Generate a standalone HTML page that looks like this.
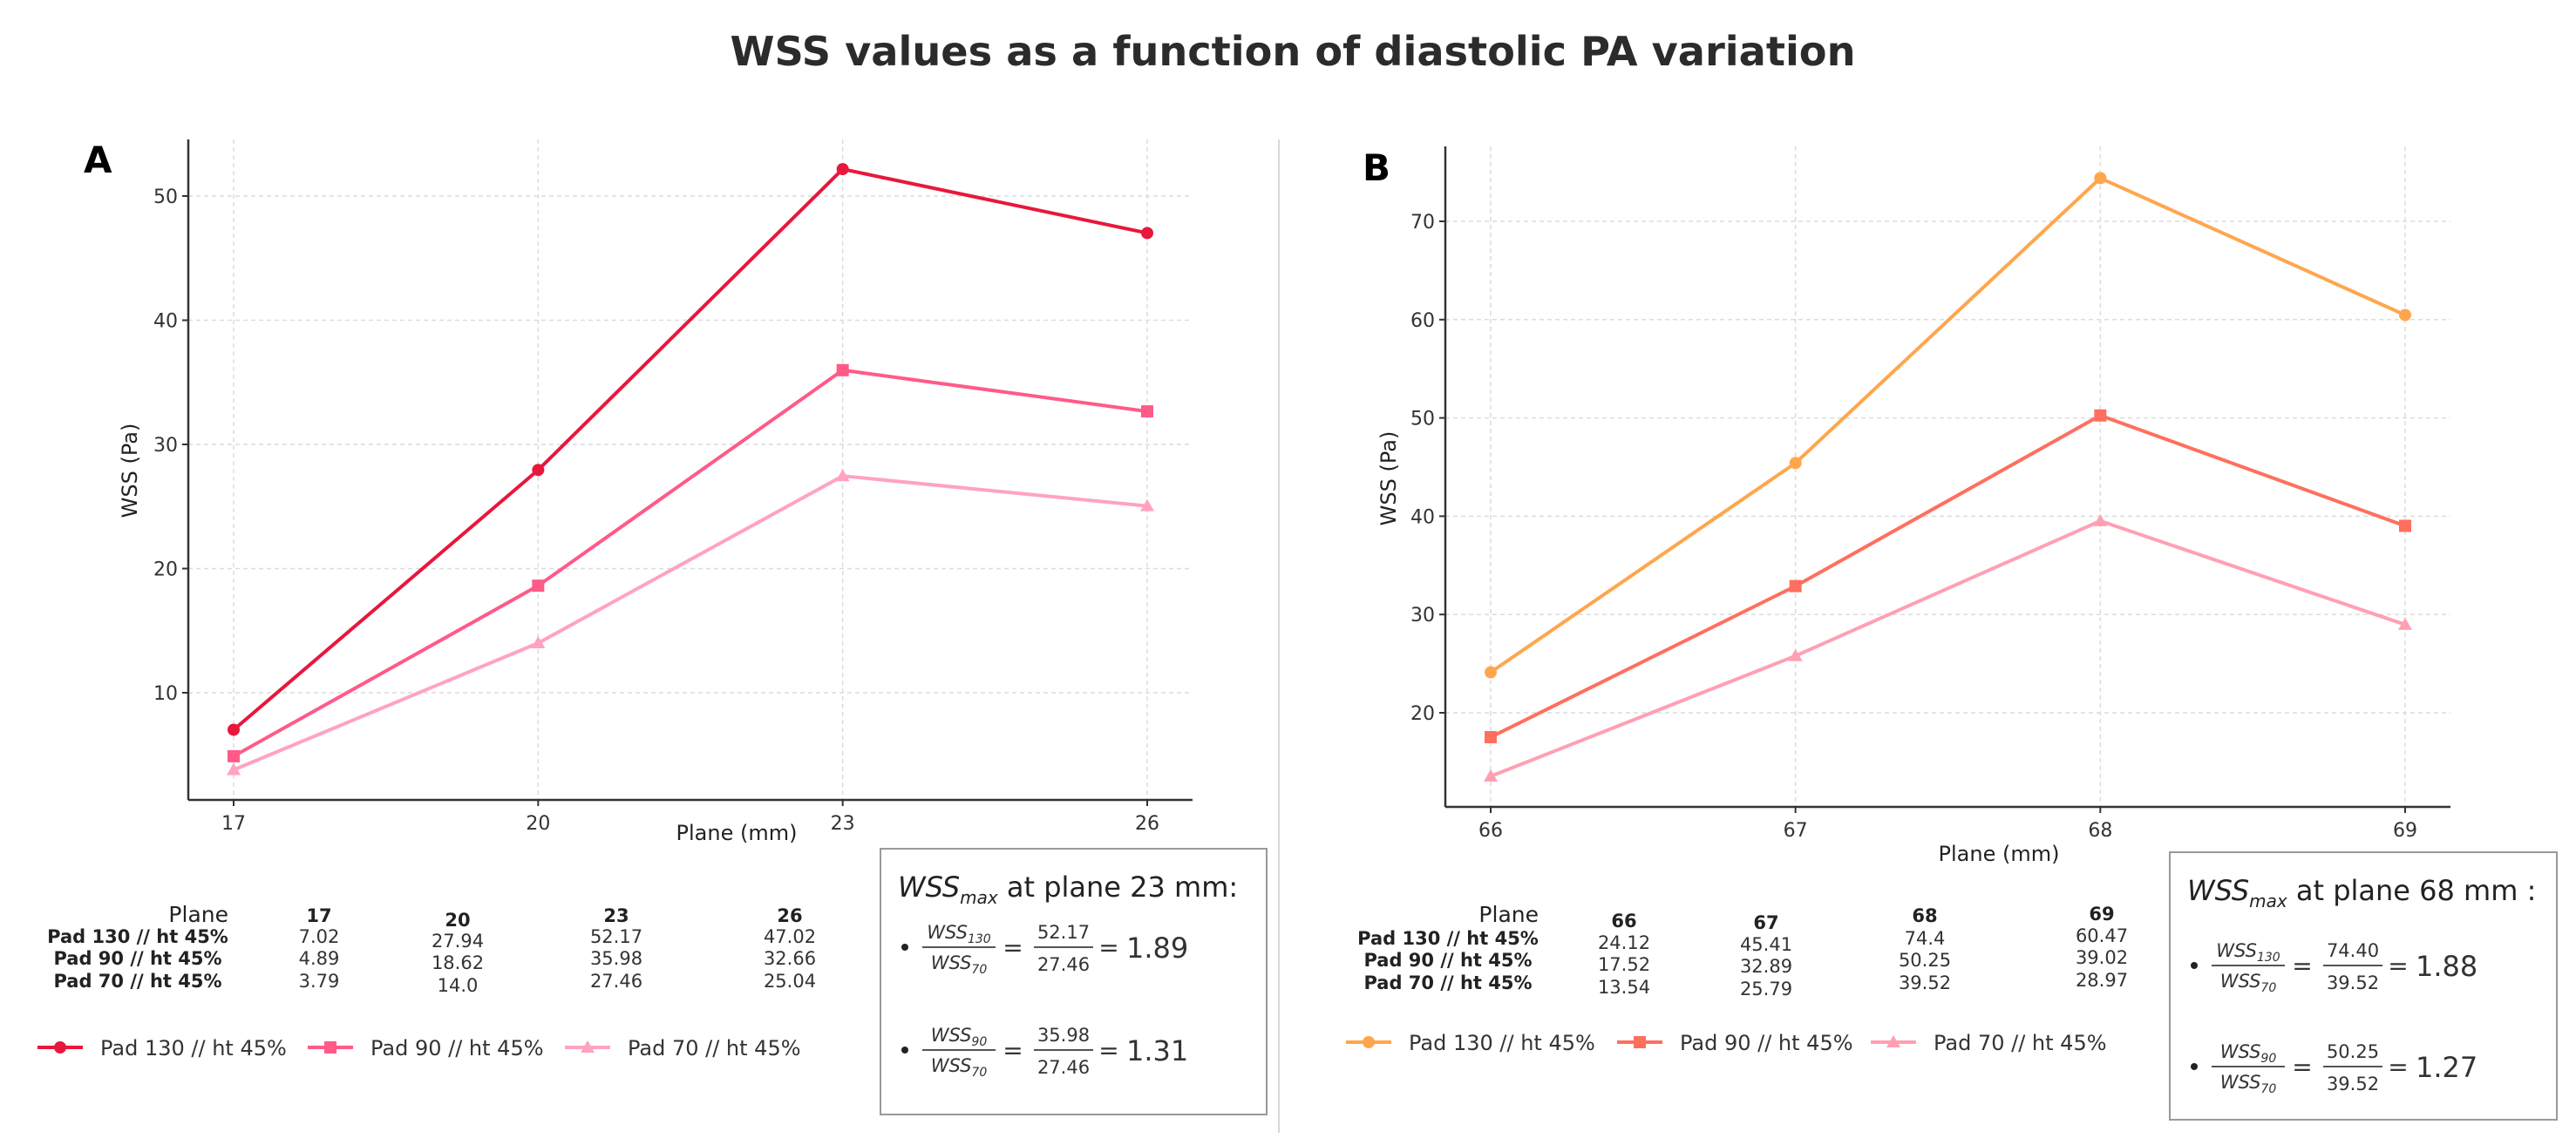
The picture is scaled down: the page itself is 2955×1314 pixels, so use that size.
<!DOCTYPE html>
<html><head><meta charset="utf-8">
<style>
html,body{margin:0;padding:0;background:#fff;}
svg{display:block;font-family:"DejaVu Sans","Liberation Sans",sans-serif;}
</style></head>
<body>
<svg id="fig" width="2955" height="1314" viewBox="0 0 2955 1314" xmlns="http://www.w3.org/2000/svg">
<rect width="2955" height="1314" fill="#fff"/>
<text x="1483" y="75" text-anchor="middle" font-size="46" font-weight="bold" fill="#2b2b2b" textLength="1291" lengthAdjust="spacingAndGlyphs">WSS values as a function of diastolic PA variation</text>
<line x1="1467" y1="160" x2="1467" y2="1300" stroke="#d8d8d8" stroke-width="2"/>
<g id="panelA"></g>
<g id="panelB"></g>
</svg>
<script>
// ---- Panel A data ----
const planesA = [17, 20, 23, 26];
const pad130A = [7.02, 27.94, 52.17, 47.02];
const pad90A = [4.89, 18.62, 35.98, 32.66];
const pad70A = [3.79, 14.0, 27.46, 25.04];
const yTicksA = [10, 20, 30, 40, 50];
const tableA130 = ["7.02", "27.94", "52.17", "47.02"];
const tableA90 = ["4.89", "18.62", "35.98", "32.66"];
const tableA70 = ["3.79", "14.0", "27.46", "25.04"];
// ---- Panel B data ----
const planesB = [66, 67, 68, 69];
const pad130B = [24.12, 45.41, 74.4, 60.47];
const pad90B = [17.52, 32.89, 50.25, 39.02];
const pad70B = [13.54, 25.79, 39.52, 28.97];
const yTicksB = [20, 30, 40, 50, 60, 70];
const tableB130 = ["24.12", "45.41", "74.4", "60.47"];
const tableB90 = ["17.52", "32.89", "50.25", "39.02"];
const tableB70 = ["13.54", "25.79", "39.52", "28.97"];
const seriesNames = ["Pad 130 // ht 45%", "Pad 90 // ht 45%", "Pad 70 // ht 45%"];

const NS = "http://www.w3.org/2000/svg";
function mk(parent, tag, attrs, text) {
  const e = document.createElementNS(NS, tag);
  for (const k in attrs) e.setAttribute(k, attrs[k]);
  if (text !== undefined) e.textContent = text;
  parent.appendChild(e);
  return e;
}

function marker(g, kind, x, y, color) {
  let m;
  if (kind === 0) m = mk(g, "circle", {cx: x, cy: y, r: 7, fill: color});
  else if (kind === 1) m = mk(g, "rect", {x: x - 7, y: y - 7, width: 14, height: 14, fill: color});
  else m = mk(g, "polygon", {points: `${x},${y - 8} ${x + 8},${y + 6} ${x - 8},${y + 6}`, fill: color});
  return m;
}

function wssSub(parent, x, y, sub) {
  const t = mk(parent, "text", {x: x, y: y, "text-anchor": "middle", "font-size": 21, "font-style": "italic", fill: "#333"});
  mk(t, "tspan", {}, "WSS");
  mk(t, "tspan", {"font-size": 14, dy: 5}, sub);
  return t;
}

function panel(gid, cfg) {
  const g = document.getElementById(gid);
  const X = cfg.X, Y = cfg.Y;
  const xs = v => X.x0 + (v - X.v0) * (X.x1 - X.x0) / (X.v1 - X.v0);
  const ys = v => Y.y0 + (v - Y.v0) * (Y.y1 - Y.y0) / (Y.v1 - Y.v0);
  cfg.planes.forEach(p => {
    const l = mk(g, "line", {x1: xs(p), y1: cfg.top, x2: xs(p), y2: cfg.bottom, stroke: "#dcdcdc", "stroke-width": 1.5, "stroke-dasharray": "5,4"});
    
    
  });
  cfg.yTicks.forEach(t => {
    const l = mk(g, "line", {x1: cfg.left, y1: ys(t), x2: cfg.right, y2: ys(t), stroke: "#dcdcdc", "stroke-width": 1.5, "stroke-dasharray": "5,4"});
    
    
    const tk = mk(g, "line", {x1: cfg.left - 7, y1: ys(t), x2: cfg.left, y2: ys(t), stroke: "#333", "stroke-width": 2});
    
    
    const tl = mk(g, "text", {x: cfg.left - 12, y: ys(t) + 8, "text-anchor": "end", "font-size": 22, fill: "#333"}, String(t));
    
    
  });
  cfg.planes.forEach(p => {
    const tk = mk(g, "line", {x1: xs(p), y1: cfg.bottom, x2: xs(p), y2: cfg.bottom + 7, stroke: "#333", "stroke-width": 2});
    
    
    const tl = mk(g, "text", {x: xs(p), y: cfg.bottom + 34, "text-anchor": "middle", "font-size": 22, fill: "#333"}, String(p));
    
    
  });
  const sp1 = mk(g, "line", {x1: cfg.left, y1: cfg.top, x2: cfg.left, y2: cfg.bottom, stroke: "#333", "stroke-width": 2.5});
  
  
  const sp2 = mk(g, "line", {x1: cfg.left, y1: cfg.bottom, x2: cfg.right, y2: cfg.bottom, stroke: "#333", "stroke-width": 2.5});
  
  
  const yl = mk(g, "text", {x: cfg.yLabelX, y: cfg.yLabelY, "text-anchor": "middle", "font-size": 24, fill: "#222", transform: `rotate(-90 ${cfg.yLabelX} ${cfg.yLabelY})`}, "WSS (Pa)");
  
  
  const xl = mk(g, "text", {x: cfg.xLabelX, y: cfg.xLabelY, "text-anchor": "middle", "font-size": 24, fill: "#222"}, "Plane  (mm)");
  
  
  const pl = mk(g, "text", {x: cfg.letterX, y: cfg.letterY, "font-size": 42, "font-weight": "bold", fill: "#000"}, cfg.letter);
  
  
  cfg.series.forEach((s, i) => {
    const pts = cfg.planes.map((p, j) => `${xs(p)},${ys(s[j])}`).join(" ");
    const pl2 = mk(g, "polyline", {points: pts, fill: "none", stroke: cfg.colors[i], "stroke-width": 4, "stroke-linejoin": "round"});
    
    
    cfg.planes.forEach((p, j) => {
      const m = marker(g, i, xs(p), ys(s[j]), cfg.colors[i]);
      
      
    });
  });
  const T = cfg.table;
  const ph = mk(g, "text", {x: T.planeX, y: T.planeY, "text-anchor": "end", "font-size": 25, fill: "#222"}, "Plane");
  
  
  cfg.planes.forEach((p, j) => {
    const h = mk(g, "text", {x: T.colX[j], y: T.headY[j], "text-anchor": "middle", "font-size": 21, "font-weight": "bold", fill: "#222"}, String(p));
    
    
  });
  seriesNames.forEach((n, i) => {
    const r = mk(g, "text", {x: T.labelX, y: T.rowY[i], "text-anchor": "middle", "font-size": 21, "font-weight": "bold", fill: "#222"}, n);
    
    
    cfg.tableVals[i].forEach((v, j) => {
      const c = mk(g, "text", {x: T.colX[j], y: T.rowY[i] + T.colOff[j], "text-anchor": "middle", "font-size": 21, fill: "#333"}, v);
      
      
    });
  });
  const L = cfg.legend;
  seriesNames.forEach((n, i) => {
    const lg = mk(g, "g", {});
    
    
    mk(lg, "line", {x1: L.mx[i], y1: L.y, x2: L.mx[i] + 52, y2: L.y, stroke: cfg.colors[i], "stroke-width": 4});
    marker(lg, i, L.mx[i] + 26, L.y, cfg.colors[i]);
    mk(lg, "text", {x: L.mx[i] + 72, y: L.y + 9, "font-size": 24, fill: "#333"}, n);
  });
  const B = cfg.box;
  const bx = mk(g, "g", {});
  
  
  mk(bx, "rect", {x: B.x, y: B.y, width: B.w, height: B.h, fill: "#fff", stroke: "#999", "stroke-width": 2});
  const hd = mk(bx, "text", {x: B.x + 20, y: B.y + 55, "font-size": 32, fill: "#222"});
  mk(hd, "tspan", {"font-style": "italic"}, "WSS");
  mk(hd, "tspan", {"font-style": "italic", "font-size": 20, dy: 8}, "max");
  mk(hd, "tspan", {dy: -8}, " at plane " + cfg.peakPlane + (cfg.letter === "B" ? " mm :" : " mm:"));
  B.fracs.forEach((f, k) => {
    const cy = B.y + B.fy[k];
    const fx = B.x + 28;
    mk(bx, "circle", {cx: fx, cy: cy, r: 4, fill: "#222"});
    const nx = fx + 62;
    wssSub(bx, nx, cy - 10, f[0]);
    mk(bx, "line", {x1: nx - 42, y1: cy, x2: nx + 42, y2: cy, stroke: "#555", "stroke-width": 2});
    wssSub(bx, nx, cy + 25, "70");
    mk(bx, "text", {x: nx + 62, y: cy + 10, "text-anchor": "middle", "font-size": 28, fill: "#333"}, "=");
    const vx = nx + 120;
    mk(bx, "text", {x: vx, y: cy - 10, "text-anchor": "middle", "font-size": 21, fill: "#333"}, f[1]);
    mk(bx, "line", {x1: vx - 34, y1: cy, x2: vx + 34, y2: cy, stroke: "#555", "stroke-width": 2});
    mk(bx, "text", {x: vx, y: cy + 27, "text-anchor": "middle", "font-size": 21, fill: "#333"}, f[2]);
    mk(bx, "text", {x: vx + 52, y: cy + 10, "text-anchor": "middle", "font-size": 28, fill: "#333"}, "=");
    mk(bx, "text", {x: vx + 72, y: cy + 12, "font-size": 32, fill: "#333"}, f[3]);
  });
}

panel("panelA", {
  letter: "A", letterX: 96, letterY: 198, peakPlane: 23,
  planes: planesA, series: [pad130A, pad90A, pad70A], yTicks: yTicksA,
  colors: ["#e8173c", "#ff5a88", "#ffa3bf"],
  X: {v0: 17, v1: 26, x0: 268, x1: 1316},
  Y: {v0: 10, v1: 50, y0: 795, y1: 225},
  left: 216, right: 1368, top: 160, bottom: 918,
  yLabelX: 157, yLabelY: 540, xLabelX: 845, xLabelY: 964,
  tableVals: [tableA130, tableA90, tableA70],
  table: {planeX: 262, planeY: 1058, labelX: 158, colX: [366, 525, 707, 906], headY: [1058, 1063, 1058, 1058], rowY: [1082, 1107, 1133], colOff: [0, 5, 0, 0]},
  legend: {y: 1202, mx: [43, 353, 648]},
  box: {x: 1010, y: 974, w: 443, h: 305, fy: [113, 231], fracs: [["130", "52.17", "27.46", "1.89"], ["90", "35.98", "27.46", "1.31"]]}
});
panel("panelB", {
  letter: "B", letterX: 1563, letterY: 207, peakPlane: 68,
  planes: planesB, series: [pad130B, pad90B, pad70B], yTicks: yTicksB,
  colors: ["#ffa64d", "#ff6f5e", "#ffa0b2"],
  X: {v0: 66, v1: 69, x0: 1710, x1: 2759},
  Y: {v0: 20, v1: 70, y0: 818, y1: 254},
  left: 1658, right: 2811, top: 168, bottom: 926,
  yLabelX: 1601, yLabelY: 549, xLabelX: 2293, xLabelY: 988,
  tableVals: [tableB130, tableB90, tableB70],
  table: {planeX: 1765, planeY: 1058, labelX: 1661, colX: [1863, 2026, 2208, 2411], headY: [1064, 1066, 1058, 1056], rowY: [1084, 1109, 1135], colOff: [5, 7, 0, -3]},
  legend: {y: 1196, mx: [1544, 1855, 2146]},
  box: {x: 2489, y: 978, w: 444, h: 307, fy: [130, 246], fracs: [["130", "74.40", "39.52", "1.88"], ["90", "50.25", "39.52", "1.27"]]}
});
</script>
</body></html>
